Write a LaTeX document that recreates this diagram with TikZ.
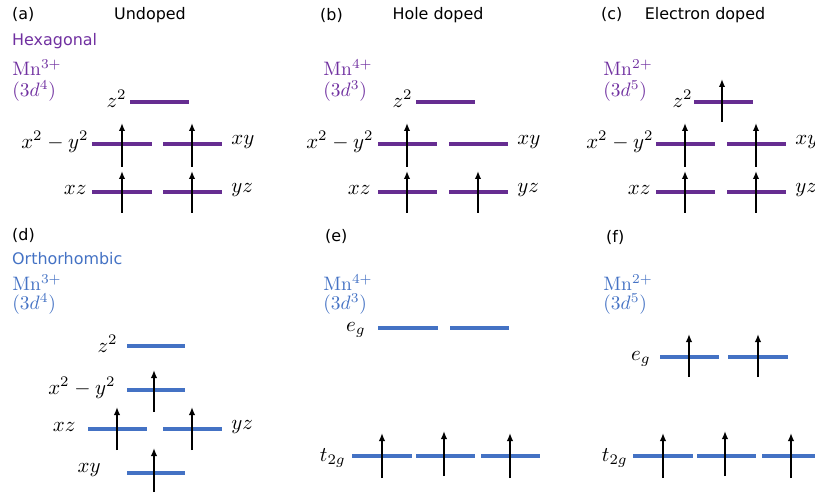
\documentclass[tikz,border=0pt]{standalone}
\usepackage{fontspec}
\newfontfamily\headfont{DejaVu Sans}
\usetikzlibrary{arrows.meta}
\definecolor{hexpurple}{RGB}{102,45,145}
\definecolor{hextext}{RGB}{112,48,160}
\definecolor{orthoblue}{RGB}{68,114,196}
\begin{document}
\begin{tikzpicture}[x=1bp,y=-1bp,
  head/.style={font=\headfont\fontsize{16}{18}\selectfont, inner sep=0pt},
  ion/.style={font=\normalsize, scale=1.95, inner sep=0pt, anchor=west},
  orb/.style={font=\normalsize, scale=2.1, inner sep=0pt},
  pbar/.style={line width=4bp, hexpurple},
  bbar/.style={line width=4bp, orthoblue},
  spin/.style={-{Latex[length=8bp,width=6.5bp]}, line width=1.8bp, black}]
\useasboundingbox (0,0) rectangle (815,493);
% ---------------- headings
\node[head, anchor=west] (la) at (12,15) {(a)};
\node[head] (ta) at (150,15) {Undoped};
\node[head, anchor=west] (lb) at (320,15) {(b)};
\node[head] (tb) at (438,15) {Hole doped};
\node[head, anchor=west] (lc) at (601,15) {(c)};
\node[head] (tc) at (705,15) {Electron doped};
\node[head, anchor=west, text=hextext] (hex) at (12,41) {Hexagonal};
\node[head, anchor=west] (ld) at (12,235) {(d)};
\node[head, anchor=west] (le) at (325,237) {(e)};
\node[head, anchor=west] (lf) at (606,237) {(f)};
\node[head, anchor=west, text=orthoblue] (orth) at (12,259) {Orthorhombic};
% ---------------- ions
\node[ion, text=hextext] (ia1) at (12,68) {Mn$^{3+}$};
\node[ion, text=hextext] (ia2) at (12,91) {$(3d^4)$};
\node[ion, text=hextext] (ib1) at (323,68) {Mn$^{4+}$};
\node[ion, text=hextext] (ib2) at (323,91) {$(3d^3)$};
\node[ion, text=hextext] (ic1) at (603,68) {Mn$^{2+}$};
\node[ion, text=hextext] (ic2) at (603,91) {$(3d^5)$};
\node[ion, text=orthoblue] (id1) at (12,283) {Mn$^{3+}$};
\node[ion, text=orthoblue] (id2) at (12,304) {$(3d^4)$};
\node[ion, text=orthoblue] (ie1) at (323,283) {Mn$^{4+}$};
\node[ion, text=orthoblue] (ie2) at (323,304) {$(3d^3)$};
\node[ion, text=orthoblue] (if1) at (603,283) {Mn$^{2+}$};
\node[ion, text=orthoblue] (if2) at (603,304) {$(3d^5)$};
% ---------------- panel (a)
\draw[pbar] (130,102) -- (189,102);
\draw[pbar] (92,144) -- (152,144);
\draw[pbar] (163,144) -- (222,144);
\draw[pbar] (92,192) -- (152,192);
\draw[pbar] (163,192) -- (222,192);
\node[orb, anchor=east] (az) at (127,99) {$z^2$};
\node[orb, anchor=east] (ax) at (89,142) {$x^2-y^2$};
\node[orb, anchor=west] (axy) at (231,142) {$xy$};
\node[orb, anchor=east] (axz) at (87,190) {$xz$};
\node[orb, anchor=west] (ayz) at (231,190) {$yz$};
\draw[spin] (122,167) -- (122,123);
\draw[spin] (192,167) -- (192,123);
\draw[spin] (122,213) -- (122,171);
\draw[spin] (192,213) -- (192,171);
% ---------------- panel (b)
\draw[pbar] (416,102) -- (475,102);
\draw[pbar] (378,144) -- (437,144);
\draw[pbar] (449,144) -- (508,144);
\draw[pbar] (378,192) -- (437,192);
\draw[pbar] (449,192) -- (508,192);
\node[orb, anchor=east] (bz) at (413,99) {$z^2$};
\node[orb, anchor=east] (bx) at (374,142) {$x^2-y^2$};
\node[orb, anchor=west] (bxy) at (517,142) {$xy$};
\node[orb, anchor=east] (bxz) at (371,190) {$xz$};
\node[orb, anchor=west] (byz) at (517,190) {$yz$};
\draw[spin] (407,167) -- (407,123);
\draw[spin] (407,213) -- (407,171);
\draw[spin] (478,213) -- (478,171);
% ---------------- panel (c)
\draw[pbar] (694,102) -- (753,102);
\draw[pbar] (656,144) -- (715,144);
\draw[pbar] (727,144) -- (786,144);
\draw[pbar] (656,192) -- (715,192);
\draw[pbar] (727,192) -- (786,192);
\node[orb, anchor=east] (cz) at (693,99) {$z^2$};
\node[orb, anchor=east] (cx) at (654,142) {$x^2-y^2$};
\node[orb, anchor=west] (cxy) at (795,142) {$xy$};
\node[orb, anchor=east] (cxz) at (651,190) {$xz$};
\node[orb, anchor=west] (cyz) at (795,190) {$yz$};
\draw[spin] (722,122) -- (722,79);
\draw[spin] (685,167) -- (685,123);
\draw[spin] (756,167) -- (756,123);
\draw[spin] (685,213) -- (685,171);
\draw[spin] (756,213) -- (756,171);
% ---------------- panel (d)
\draw[bbar] (127,346) -- (185,346);
\draw[bbar] (127,390) -- (185,390);
\draw[bbar] (88,429) -- (147,429);
\draw[bbar] (163,429) -- (222,429);
\draw[bbar] (127,473) -- (185,473);
\node[orb, anchor=east] (dz) at (118,344) {$z^2$};
\node[orb, anchor=east] (dx) at (116,388) {$x^2-y^2$};
\node[orb, anchor=east] (dxz) at (76,427) {$xz$};
\node[orb, anchor=west] (dyz) at (231,427) {$yz$};
\node[orb, anchor=east] (dxy) at (101,470) {$xy$};
\draw[spin] (154,412) -- (154,370);
\draw[spin] (117,450) -- (117,407);
\draw[spin] (192,450) -- (192,407);
\draw[spin] (154,492) -- (154,448);
% ---------------- panel (e)
\draw[bbar] (378,328) -- (438,328);
\draw[bbar] (450,328) -- (509,328);
\draw[bbar] (352,456) -- (412,456);
\draw[bbar] (416,456) -- (475,456);
\draw[bbar] (481,456) -- (540,456);
\node[orb, anchor=east] (eeg) at (366,330) {$e_g$};
\node[orb, anchor=east] (et) at (346,458) {$t_{2g}$};
\draw[spin] (382,478) -- (382,433);
\draw[spin] (444,476) -- (444,431);
\draw[spin] (510,478) -- (510,433);
% ---------------- panel (f)
\draw[bbar] (660,357) -- (719,357);
\draw[bbar] (728,357) -- (788,357);
\draw[bbar] (633,456) -- (693,456);
\draw[bbar] (697,456) -- (756,456);
\draw[bbar] (762,456) -- (815,456);
\node[orb, anchor=east] (feg) at (651,359) {$e_g$};
\node[orb, anchor=east] (ft) at (628,458) {$t_{2g}$};
\draw[spin] (689,377) -- (689,334);
\draw[spin] (758,377) -- (758,334);
\draw[spin] (663,478) -- (663,433);
\draw[spin] (725,476) -- (725,431);
\draw[spin] (791,478) -- (791,433);
\end{tikzpicture}
\end{document}
